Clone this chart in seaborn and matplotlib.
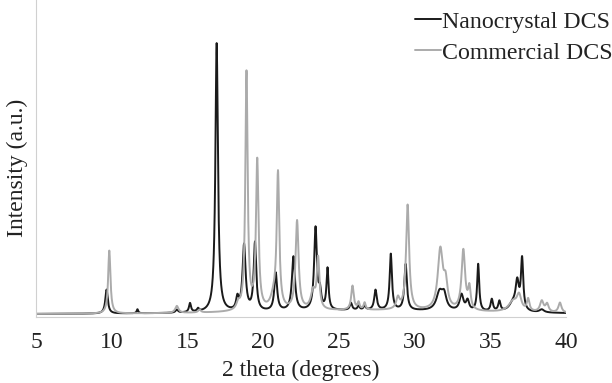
import numpy as np
import pandas as pd
import matplotlib
matplotlib.use("Agg")
import matplotlib.pyplot as plt
import seaborn as sns
from matplotlib.lines import Line2D

# ---- data (peak positions in deg 2theta, heights in a.u., half widths) ----
nano_pos = [9.66, 11.7, 14.3, 15.17, 15.7, 16.93, 18.3, 18.74, 19.46, 20.83, 22.0, 23.46, 23.75,
            24.25, 25.8, 26.3, 26.7, 27.42, 28.43, 29.41, 31.65, 31.95, 33.1, 33.5, 34.2, 35.1,
            35.6, 36.5, 36.78, 37.1, 38.4, 27.0]
nano_amp = [24, 4, 3, 9, 3, 269, 12, 66, 68, 38, 54, 82, 16,
            41, 7, 4, 4, 20, 56, 46, 18, 14, 16, 10, 47, 12,
            10, 8, 27, 51, 3, 4]
nano_wid = [0.1, 0.06, 0.1, 0.08, 0.08, 0.1, 0.1, 0.12, 0.1, 0.11, 0.12, 0.11, 0.1,
            0.08, 0.09, 0.08, 0.08, 0.1, 0.09, 0.1, 0.25, 0.18, 0.15, 0.12, 0.08, 0.09,
            0.09, 0.3, 0.13, 0.09, 0.18, 9.0]
nano_base = 2.5

comm_pos = [9.84, 14.3, 15.8, 18.35, 18.9, 19.61, 20.7, 20.98, 22.24, 23.3, 23.63, 25.9, 26.3,
            26.7, 28.9, 29.54, 31.7, 32.05, 33.22, 33.62, 36.5, 36.9, 37.5, 38.4, 38.75, 39.6, 27.0]
comm_amp = [63, 7, 3, 6, 238, 149, 12, 134, 89, 18, 50, 24, 7,
            7, 11, 105, 60, 24, 60, 21, 10, 15, 12, 11, 8, 10, 4]
comm_wid = [0.09, 0.13, 0.1, 0.13, 0.09, 0.1, 0.25, 0.1, 0.12, 0.18, 0.1, 0.1, 0.08,
            0.08, 0.13, 0.12, 0.2, 0.15, 0.14, 0.1, 0.35, 0.18, 0.1, 0.14, 0.12, 0.12, 9.0]
comm_base = 2.5

series_names = ["Nanocrystal DCS", "Commercial DCS"]
series_colors = ["#1a1a1a", "#ababab"]
x_ticks = [5, 10, 15, 20, 25, 30, 35, 40]


def profile(x, pos, amp, wid, base):
    y = np.full_like(x, base)
    for p, a, w in zip(pos, amp, wid):
        y += a / (1.0 + ((x - p) / w) ** 2)
    return y


theta = np.arange(5.0, 40.0001, 0.01)
frames = []
for name, pos, amp, wid, base in [
    (series_names[0], nano_pos, nano_amp, nano_wid, nano_base),
    (series_names[1], comm_pos, comm_amp, comm_wid, comm_base),
]:
    frames.append(pd.DataFrame({"theta": theta,
                                "intensity": profile(theta, pos, amp, wid, base),
                                "series": name}))
df = pd.concat(frames, ignore_index=True)

sns.set_style("white")
plt.rcParams["font.family"] = ["Liberation Serif", "DejaVu Serif"]

fig = plt.figure(figsize=(6.12, 3.83), dpi=100)
ax = fig.add_axes([36 / 612, (383 - 317) / 383, 530 / 612, 317 / 383])

sns.lineplot(data=df, x="theta", y="intensity", hue="series", hue_order=series_names,
             palette=dict(zip(series_names, series_colors)), estimator=None, sort=False,
             linewidth=1.4, ax=ax, legend=False)

ax.set_xlim(5, 40)
ax.set_ylim(0, 317)
ax.set_xticks(x_ticks)
ax.set_xticklabels([str(t) for t in x_ticks], fontsize=17, color="#222222")
ax.set_yticks([])
ax.tick_params(axis="x", direction="out", length=6, width=0.8, color="#d0d0d0", pad=5)
ax.set_xlabel("2 theta (degrees)", fontsize=17, color="#222222", labelpad=5)
ax.set_ylabel("Intensity (a.u.)", fontsize=17, color="#222222", labelpad=6)
ax.yaxis.label.set_y(0.47)
for s in ["top", "right"]:
    ax.spines[s].set_visible(False)
for s in ["left", "bottom"]:
    ax.spines[s].set_color("#d0d0d0")
    ax.spines[s].set_linewidth(0.8)

handles = [Line2D([], [], color=c, lw=1.4) for c in series_colors]
leg = ax.legend(handles, series_names, loc="upper right", bbox_to_anchor=(1.106, 0.996),
                frameon=False, fontsize=17.2, handlelength=1.09, handletextpad=0.05,
                labelspacing=0.4, borderaxespad=0.0)
for t in leg.get_texts():
    t.set_color("#222222")

fig.savefig("out.png", dpi=100)
